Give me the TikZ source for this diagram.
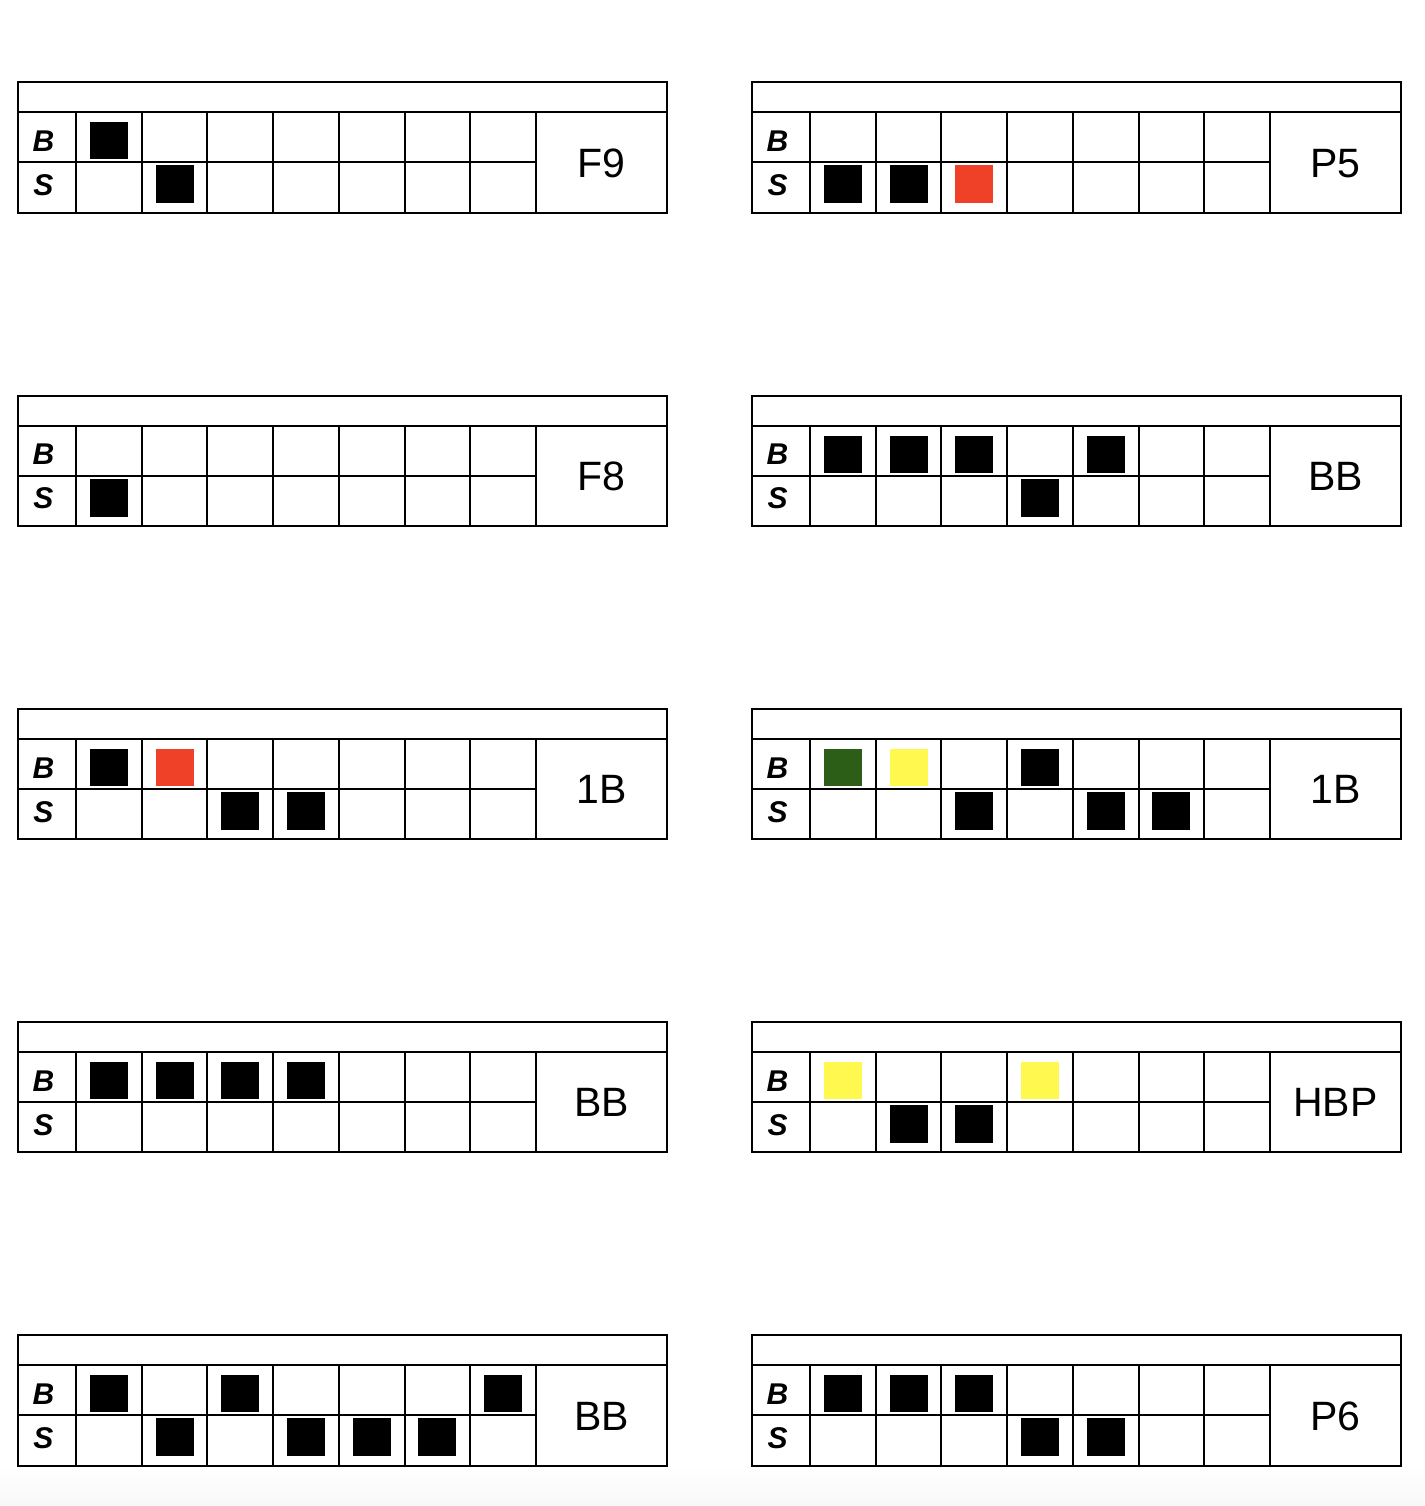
\documentclass[tikz,border=0pt]{standalone}
\usepackage{fontspec}
\setmainfont{Liberation Sans}
\definecolor{cred}{HTML}{EE4127}
\definecolor{cgreen}{HTML}{2C5E18}
\definecolor{cyellow}{HTML}{FFF94F}
\tikzset{
  grid/.style={draw=black, line width=2pt},
  rowlbl/.style={font=\fontsize{30}{30}\selectfont\bfseries\itshape, inner sep=0pt},
  result/.style={font=\fontsize{41}{41}\selectfont, inner sep=0pt},
}
\newcommand\bsq[2]{\fill[#2] ({58+(#1-0.5)*65.714-19},40) rectangle ++(38,37);}
\newcommand\ssq[2]{\fill[#2] ({58+(#1-0.5)*65.714-19},83) rectangle ++(38,38);}
\newcommand\card[5]{%
  \begin{scope}[shift={(#1,#2)}]
    #5
    \draw[grid] (0,0) rectangle (649,130.5);
    \draw[grid] (0,30) -- (649,30);
    \draw[grid] (0,80) -- (518,80);
    \foreach \i in {0,...,7} \draw[grid] ({58+\i*65.714},30) -- ({58+\i*65.714},130.5);
    \node[rowlbl] (#4b) at (25.5,59) {B};
    \node[rowlbl] (#4s) at (25.5,103) {S};
    \node[result] (#4r) at (583.5,81) {#3};
  \end{scope}}
\begin{document}
\begin{tikzpicture}[x=1pt,y=-1pt]
  \useasboundingbox (0,0) rectangle (1424,1506);
  \shade[top color=white, bottom color=black!3] (0,1466) rectangle (1424,1506);
  % row 1
  \card{18}{82.3}{F9}{c1l}{\bsq{1}{black}\ssq{2}{black}}
  \card{752}{82.3}{P5}{c1r}{\ssq{1}{black}\ssq{2}{black}\ssq{3}{cred}}
  % row 2
  \card{18}{395.5}{F8}{c2l}{\ssq{1}{black}}
  \card{752}{395.5}{BB}{c2r}{\bsq{1}{black}\bsq{2}{black}\bsq{3}{black}\bsq{5}{black}\ssq{4}{black}}
  % row 3
  \card{18}{708.7}{1B}{c3l}{\bsq{1}{black}\bsq{2}{cred}\ssq{3}{black}\ssq{4}{black}}
  \card{752}{708.7}{1B}{c3r}{\bsq{1}{cgreen}\bsq{2}{cyellow}\bsq{4}{black}\ssq{3}{black}\ssq{5}{black}\ssq{6}{black}}
  % row 4
  \card{18}{1021.8}{BB}{c4l}{\bsq{1}{black}\bsq{2}{black}\bsq{3}{black}\bsq{4}{black}}
  \card{752}{1021.8}{HBP}{c4r}{\bsq{1}{cyellow}\bsq{4}{cyellow}\ssq{2}{black}\ssq{3}{black}}
  % row 5
  \card{18}{1335}{BB}{c5l}{\bsq{1}{black}\bsq{3}{black}\bsq{7}{black}\ssq{2}{black}\ssq{4}{black}\ssq{5}{black}\ssq{6}{black}}
  \card{752}{1335}{P6}{c5r}{\bsq{1}{black}\bsq{2}{black}\bsq{3}{black}\ssq{4}{black}\ssq{5}{black}}
\end{tikzpicture}
\end{document}
